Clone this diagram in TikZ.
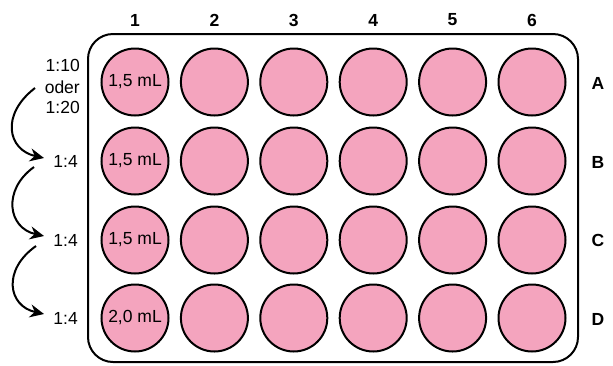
\documentclass[tikz,border=0pt]{standalone}
\usepackage{fontspec}
\setmainfont{Liberation Sans}
\usetikzlibrary{arrows.meta}
\definecolor{wellpink}{HTML}{F4A4BE}
\begin{document}
\begin{tikzpicture}[x=1pt,y=-1pt,
  well/.style={circle,draw=black,line width=2pt,fill=wellpink,minimum size=67pt,inner sep=0pt,font=\fontsize{17.5}{20}\selectfont},
  collab/.style={font=\bfseries\fontsize{17.5}{20}\selectfont},
  rowlab/.style={font=\bfseries\fontsize{17.5}{20}\selectfont},
  dillab/.style={anchor=east,font=\fontsize{17.5}{20}\selectfont,inner sep=0pt},
  dilarrow/.style={line width=2pt,-{Stealth[length=14pt,width=13pt]}}]
\useasboundingbox (0,0) rectangle (613,365);
% plate
\node[draw=black,line width=2pt,rounded corners=25pt,minimum width=490pt,minimum height=328pt,inner sep=0pt] (plate) at (333,198) {};
% column labels
\foreach \c [count=\i from 0] in {1,...,6}{
  \node[collab] (c\c) at (135+79.4*\i,20) {\c};
}
% row labels
\node[rowlab] (rA) at (598,83) {A};
\node[rowlab] (rB) at (598,162) {B};
\node[rowlab] (rC) at (598,240) {C};
\node[rowlab] (rD) at (598,319) {D};
% wells
\foreach \r/\y in {A/82,B/161,C/240,D/318}{
  \foreach \i in {2,...,6}{
    \node[well] (w\r\i) at (135+79.4*\i-79.4,\y) {};
  }
}
\node[well] (wA1) at (135,82) {1,5 mL};
\node[well] (wB1) at (135,161) {1,5 mL};
\node[well] (wC1) at (135,240) {1,5 mL};
\node[well] (wD1) at (135,318) {2,0 mL};
% dilution labels
\node[dillab] (d1) at (80,65) {1:10};
\node[dillab] (d2) at (80,87) {oder};
\node[dillab] (d3) at (80,107) {1:20};
\node[dillab] (dB) at (78,161) {1:4};
\node[dillab] (dC) at (78,240) {1:4};
\node[dillab] (dD) at (78,318) {1:4};
% arrow endpoints
\coordinate (s1) at (35,88);
\coordinate (e1) at (44,158);
\coordinate (s2) at (34,167);
\coordinate (e2) at (44,236);
\coordinate (s3) at (36,246);
\coordinate (e3) at (44,314);
\draw[dilarrow] (s1) .. controls (0,115) and (8,150) .. (e1);
\draw[dilarrow] (s2) .. controls (2,190) and (8,228) .. (e2);
\draw[dilarrow] (s3) .. controls (2,270) and (8,306) .. (e3);
\end{tikzpicture}
\end{document}
